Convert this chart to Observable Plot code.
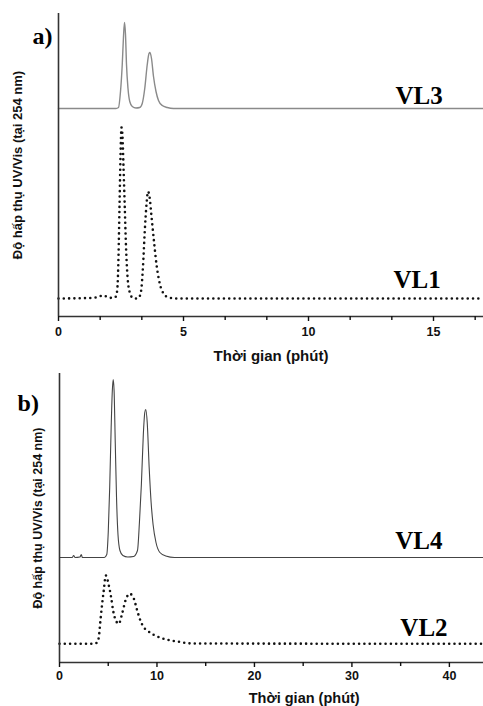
<!DOCTYPE html>
<html><head><meta charset="utf-8">
<script src="https://cdn.jsdelivr.net/npm/d3@7"></script>
<script src="https://cdn.jsdelivr.net/npm/@observablehq/plot@0.6"></script>
<style>
body{margin:0;background:#fff;}
svg{display:block;overflow:visible;}
svg text{font-weight:bold;}
</style></head><body><div id="a"></div><div id="b"></div>
<script>
// ---------- Panel a data ----------
const vl3Time   = [0, 2.3, 2.4, 2.48, 2.55, 2.6, 2.64, 2.68, 2.72, 2.78, 2.85, 2.95, 3.1, 3.25, 3.35, 3.45, 3.55, 3.62, 3.66, 3.72, 3.8, 3.9, 4.0, 4.15, 4.35, 4.6, 17];
const vl3Signal = [208, 208, 209, 225, 252, 280, 294, 282, 252, 228, 215, 210, 208.5, 209, 213, 228, 252, 263, 264, 258, 240, 225, 216, 211, 209, 208, 208];

const vl1Time   = [0, 1.2, 1.5, 1.8, 2.0, 2.2, 2.3, 2.36, 2.4, 2.44, 2.48, 2.52, 2.56, 2.6, 2.65, 2.7, 2.76, 2.85, 2.95, 3.05, 3.2, 3.3, 3.38, 3.45, 3.52, 3.58, 3.64, 3.72, 3.82, 3.92, 4.05, 4.2, 4.4, 4.7, 17];
const vl1Signal = [18, 18.5, 19, 21, 19, 18.5, 20, 30, 60, 110, 160, 189, 180, 150, 110, 70, 40, 24, 19, 18, 18.5, 25, 50, 85, 112, 125, 120, 100, 75, 52, 33, 23, 19, 18, 18];

const seriesNamesA = ["VL3", "VL1"];
const majorTicksA = [0, 5, 10, 15];
const minorTicksA = [1.667, 3.333, 6.667, 8.333, 11.667, 13.333, 16.667];

// ---------- Panel b data ----------
const vl4Time   = [0, 1.3, 1.45, 1.6, 2.1, 2.23, 2.35, 4.6, 4.85, 5.0, 5.15, 5.3, 5.42, 5.51, 5.6, 5.72, 5.85, 6.0, 6.2, 6.5, 7.0, 7.6, 8.0, 8.2, 8.4, 8.6, 8.75, 8.85, 9.0, 9.2, 9.4, 9.6, 9.9, 10.3, 10.9, 11.8, 43.5];
const vl4Signal = [105, 105, 107, 105, 105.5, 108, 105, 105, 108, 130, 175, 235, 272, 283, 272, 220, 165, 128, 112, 107, 105.5, 106, 112, 140, 178, 228, 250, 253, 240, 195, 160, 138, 120, 110, 106.5, 105, 105];

const vl2Time   = [0, 3.5, 3.87, 4.03, 4.2, 4.38, 4.54, 4.75, 5.06, 5.3, 5.5, 5.74, 6.08, 6.43, 6.77, 7.21, 7.62, 7.97, 8.3, 8.65, 9.0, 9.6, 10.36, 11.2, 12.07, 13.7, 43.5];
const vl2Signal = [18.7, 18.7, 20, 25, 42, 59, 72, 87, 77, 65, 52, 43, 38.7, 49, 62, 68.7, 64, 52, 42, 35, 32, 28, 24.7, 22.5, 21, 19, 18.7];

const seriesNamesB = ["VL4", "VL2"];
const majorTicksB = [0, 10, 20, 30, 40];
const minorTicksB = [5, 15, 25, 35];

const panelLetters = ["a)", "b)"];
const xTitle = "Thời gian (phút)";
const yTitle = "Độ hấp thụ UV/Vis (tại 254 nm)";

// ---------- helpers ----------
const zip = (t, v) => t.map((x, i) => ({t: x, v: v[i]}));
const SANS = "'Liberation Sans', Arial, sans-serif";
const SERIF = "'Liberation Serif', 'Times New Roman', serif";

function panel(cfg) {
  const svg = Plot.plot({
    width: 483,
    height: cfg.height,
    marginLeft: cfg.marginLeft,
    marginRight: 0,
    marginTop: cfg.marginTop,
    marginBottom: cfg.marginBottom,
    style: {fontFamily: SANS, fontWeight: "bold", fontSize: "12.5px", color: "#111", background: "#fff", overflow: "visible"},
    x: {domain: cfg.xDomain, label: null},
    y: {domain: cfg.yDomain, axis: null, label: null},
    marks: [
      Plot.line(cfg.solid, {x: "t", y: "v", stroke: cfg.solidColor, strokeWidth: cfg.solidWidth, curve: "monotone-x"}),
      Plot.line(cfg.dotted, {x: "t", y: "v", stroke: "#111", strokeWidth: 2.6, strokeDasharray: "0 5.3", strokeLinecap: "round", curve: "monotone-x"}),
      Plot.ruleX([0], {stroke: "#333", strokeWidth: 1.6}),
      Plot.ruleY([0], {stroke: "#333", strokeWidth: 1.6}),
      Plot.axisX(cfg.minorTicks, {tickSize: 4, tickFormat: () => "", label: null, strokeWidth: 1.4}),
      Plot.axisX(cfg.majorTicks, {tickSize: 5, tickPadding: cfg.tickPadding, label: null, strokeWidth: 1.4, fontSize: 12.5, fontWeight: "bold", fontFamily: SANS, fill: "#111"}),
      Plot.text([cfg.names[0]], {x: cfg.nameX, y: cfg.nameY[0], text: d => d, textAnchor: "start", lineAnchor: "bottom", fontFamily: SERIF, fontWeight: "bold", fontSize: 25, fill: "#000"}),
      Plot.text([cfg.names[1]], {x: cfg.nameX2, y: cfg.nameY[1], text: d => d, textAnchor: "start", lineAnchor: "bottom", fontFamily: SERIF, fontWeight: "bold", fontSize: 25, fill: "#000"}),
      Plot.text([cfg.letter], {x: cfg.letterX, y: cfg.letterY, text: d => d, textAnchor: "start", lineAnchor: "bottom", fontFamily: SERIF, fontWeight: "bold", fontSize: 24, fill: "#000"}),
      Plot.text([xTitle], {x: cfg.xTitleX, frameAnchor: "bottom", dy: cfg.xTitleDy, text: d => d, textAnchor: "middle", lineAnchor: "middle", fontFamily: SANS, fontWeight: "bold", fontSize: cfg.xTitleSize, fill: "#111"}),
      Plot.text([yTitle], {frameAnchor: "left", dx: cfg.yTitleDx, rotate: -90, text: d => d, textAnchor: "middle", lineAnchor: "middle", fontFamily: SANS, fontWeight: "bold", fontSize: cfg.yTitleSize, fill: "#111"})
    ]
  });
  d3.select(svg).selectAll("text").attr("font-weight", "bold");
  return svg;
}

document.getElementById("a").appendChild(panel({
  height: 366, marginLeft: 58, marginTop: 13, marginBottom: 50,
  xDomain: [0, 17], yDomain: [0, 303],
  solid: zip(vl3Time, vl3Signal), solidColor: "#8a8a8a", solidWidth: 1.4,
  dotted: zip(vl1Time, vl1Signal),
  majorTicks: majorTicksA, minorTicks: minorTicksA, tickPadding: 6,
  names: seriesNamesA, nameX: 13.48, nameX2: 13.4, nameY: [213, 29],
  letter: panelLetters[0], letterX: -1.04, letterY: 273,
  xTitleX: 8.5, xTitleDy: 40, xTitleSize: 15,
  yTitleDx: -40.5, yTitleSize: 13
}));

document.getElementById("b").appendChild(panel({
  height: 340, marginLeft: 59, marginTop: 7, marginBottom: 44,
  xDomain: [0, 43.5], yDomain: [0, 289],
  solid: zip(vl4Time, vl4Signal), solidColor: "#444", solidWidth: 1.1,
  dotted: zip(vl2Time, vl2Signal),
  majorTicks: majorTicksB, minorTicks: minorTicksB, tickPadding: 4,
  names: seriesNamesB, nameX: 34.45, nameX2: 34.97, nameY: [114, 27],
  letter: panelLetters[1], letterX: -4.3, letterY: 252,
  xTitleX: 25.1, xTitleDy: 36, xTitleSize: 14.5,
  yTitleDx: -22, yTitleSize: 12.5
}));
</script>
</body></html>
